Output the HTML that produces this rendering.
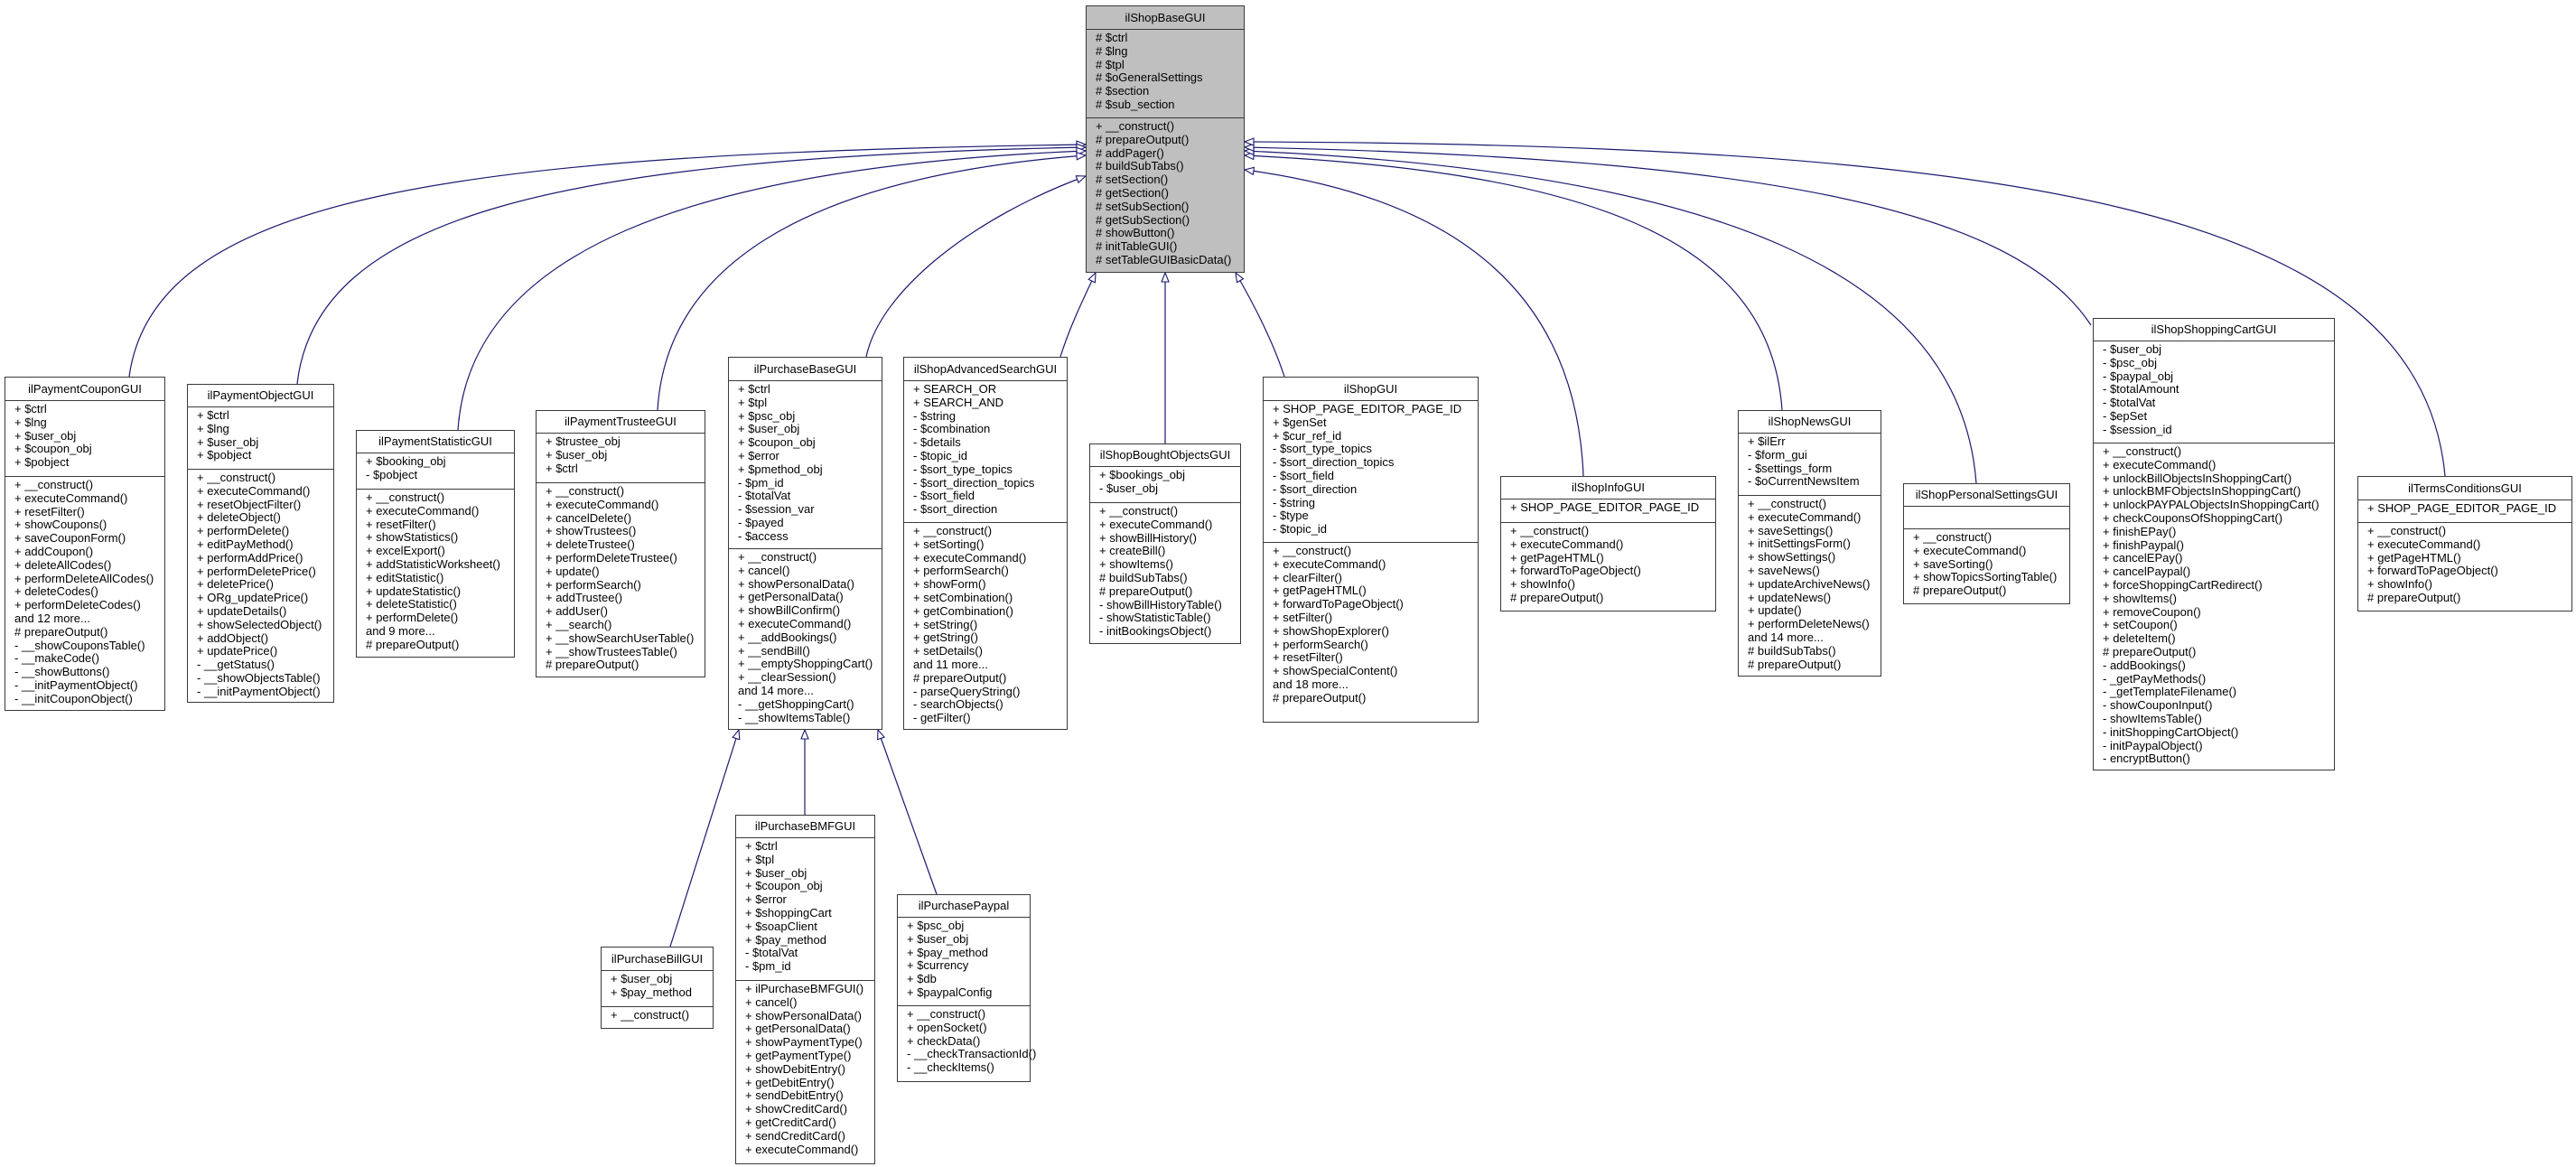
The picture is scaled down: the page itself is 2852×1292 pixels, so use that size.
<!DOCTYPE html>
<html><head><meta charset="utf-8"><style>
html,body{margin:0;padding:0;background:#fff;}
body{width:2852px;height:1292px;position:relative;overflow:hidden;font-family:"Liberation Sans",Arial,sans-serif;font-size:13px;color:#000;}
.b{position:absolute;box-sizing:border-box;border:1.3px solid #3a3a3a;background:#fff;}
.t{position:absolute;left:0;right:0;top:0;text-align:center;white-space:nowrap;}
.l{position:absolute;left:0;right:0;height:0;border-top:1.3px solid #3a3a3a;}
.a{position:absolute;left:10px;line-height:14.8px;white-space:pre;}
svg{position:absolute;left:0;top:0;}
</style></head><body>
<svg width="2852" height="1292" viewBox="0 0 2852 1292">
<defs><marker id="m" markerUnits="userSpaceOnUse" markerWidth="12" markerHeight="10" refX="11" refY="4.5" orient="auto"><path d="M1,0.5 L11,4.5 L1,8.5 Z" fill="#fff" stroke="#191970" stroke-width="1.1"/></marker></defs>
<g fill="none" stroke="#191970" stroke-width="1.2" marker-end="url(#m)">
<path d="M143,417 C170,217 500,170 1202,160"/>
<path d="M329,425 C350,238 620,175 1202,163"/>
<path d="M507,476 C520,280 760,185 1202,167"/>
<path d="M728,454 C738,290 900,195 1202,172"/>
<path d="M959,395 C975,320 1080,240 1202,195"/>
<path d="M1174,395 C1185,360 1200,330 1213,302"/>
<path d="M1290,491 L1290,302"/>
<path d="M1422,417 C1410,380 1390,340 1368,302"/>
<path d="M1753,527 C1745,330 1620,220 1378,188"/>
<path d="M1973,454 C1960,260 1750,190 1378,172"/>
<path d="M2188,535 C2170,300 1900,190 1378,167"/>
<path d="M2315,360 C2230,230 1950,175 1378,163"/>
<path d="M2707,527 C2680,231 2242,160 1378,157"/>
<path d="M742,1048 L818,808"/>
<path d="M891,902 L891,808"/>
<path d="M1037,990 L972,808"/>
</g></svg>

<div class="b" style="left:1202px;top:6px;width:176px;height:296px;background:#bfbfbf"><div class="t" style="height:25px;line-height:25px">ilShopBaseGUI</div><div class="l" style="top:25px"></div><div class="a" style="top:28px"># $ctrl<br># $lng<br># $tpl<br># $oGeneralSettings<br># $section<br># $sub_section</div><div class="l" style="top:123px"></div><div class="a" style="top:126px">+ __construct()<br># prepareOutput()<br># addPager()<br># buildSubTabs()<br># setSection()<br># getSection()<br># setSubSection()<br># getSubSection()<br># showButton()<br># initTableGUI()<br># setTableGUIBasicData()</div></div>

<div class="b" style="left:5px;top:417px;width:178px;height:370px"><div class="t" style="height:25px;line-height:25px">ilPaymentCouponGUI</div><div class="l" style="top:25px"></div><div class="a" style="top:28px">+ $ctrl<br>+ $lng<br>+ $user_obj<br>+ $coupon_obj<br>+ $pobject</div><div class="l" style="top:109px"></div><div class="a" style="top:112px">+ __construct()<br>+ executeCommand()<br>+ resetFilter()<br>+ showCoupons()<br>+ saveCouponForm()<br>+ addCoupon()<br>+ deleteAllCodes()<br>+ performDeleteAllCodes()<br>+ deleteCodes()<br>+ performDeleteCodes()<br>and 12 more...<br># prepareOutput()<br>- __showCouponsTable()<br>- __makeCode()<br>- __showButtons()<br>- __initPaymentObject()<br>- __initCouponObject()</div></div>

<div class="b" style="left:207px;top:425px;width:163px;height:353px"><div class="t" style="height:24px;line-height:24px">ilPaymentObjectGUI</div><div class="l" style="top:24px"></div><div class="a" style="top:27px">+ $ctrl<br>+ $lng<br>+ $user_obj<br>+ $pobject</div><div class="l" style="top:93px"></div><div class="a" style="top:96px">+ __construct()<br>+ executeCommand()<br>+ resetObjectFilter()<br>+ deleteObject()<br>+ performDelete()<br>+ editPayMethod()<br>+ performAddPrice()<br>+ performDeletePrice()<br>+ deletePrice()<br>+ ORg_updatePrice()<br>+ updateDetails()<br>+ showSelectedObject()<br>+ addObject()<br>+ updatePrice()<br>- __getStatus()<br>- __showObjectsTable()<br>- __initPaymentObject()</div></div>

<div class="b" style="left:394px;top:476px;width:176px;height:252px"><div class="t" style="height:24px;line-height:24px">ilPaymentStatisticGUI</div><div class="l" style="top:24px"></div><div class="a" style="top:27px">+ $booking_obj<br>- $pobject</div><div class="l" style="top:64px"></div><div class="a" style="top:67px">+ __construct()<br>+ executeCommand()<br>+ resetFilter()<br>+ showStatistics()<br>+ excelExport()<br>+ addStatisticWorksheet()<br>+ editStatistic()<br>+ updateStatistic()<br>+ deleteStatistic()<br>+ performDelete()<br>and 9 more...<br># prepareOutput()</div></div>

<div class="b" style="left:593px;top:454px;width:188px;height:296px"><div class="t" style="height:24px;line-height:24px">ilPaymentTrusteeGUI</div><div class="l" style="top:24px"></div><div class="a" style="top:27px">+ $trustee_obj<br>+ $user_obj<br>+ $ctrl</div><div class="l" style="top:79px"></div><div class="a" style="top:82px">+ __construct()<br>+ executeCommand()<br>+ cancelDelete()<br>+ showTrustees()<br>+ deleteTrustee()<br>+ performDeleteTrustee()<br>+ update()<br>+ performSearch()<br>+ addTrustee()<br>+ addUser()<br>+ __search()<br>+ __showSearchUserTable()<br>+ __showTrusteesTable()<br># prepareOutput()</div></div>

<div class="b" style="left:806px;top:395px;width:171px;height:413px"><div class="t" style="height:25px;line-height:25px">ilPurchaseBaseGUI</div><div class="l" style="top:25px"></div><div class="a" style="top:28px">+ $ctrl<br>+ $tpl<br>+ $psc_obj<br>+ $user_obj<br>+ $coupon_obj<br>+ $error<br>+ $pmethod_obj<br>- $pm_id<br>- $totalVat<br>- $session_var<br>- $payed<br>- $access</div><div class="l" style="top:211px"></div><div class="a" style="top:214px">+ __construct()<br>+ cancel()<br>+ showPersonalData()<br>+ getPersonalData()<br>+ showBillConfirm()<br>+ executeCommand()<br>+ __addBookings()<br>+ __sendBill()<br>+ __emptyShoppingCart()<br>+ __clearSession()<br>and 14 more...<br>- __getShoppingCart()<br>- __showItemsTable()</div></div>

<div class="b" style="left:1000px;top:395px;width:182px;height:413px"><div class="t" style="height:25px;line-height:25px">ilShopAdvancedSearchGUI</div><div class="l" style="top:25px"></div><div class="a" style="top:28px">+ SEARCH_OR<br>+ SEARCH_AND<br>- $string<br>- $combination<br>- $details<br>- $topic_id<br>- $sort_type_topics<br>- $sort_direction_topics<br>- $sort_field<br>- $sort_direction</div><div class="l" style="top:182px"></div><div class="a" style="top:185px">+ __construct()<br>+ setSorting()<br>+ executeCommand()<br>+ performSearch()<br>+ showForm()<br>+ setCombination()<br>+ getCombination()<br>+ setString()<br>+ getString()<br>+ setDetails()<br>and 11 more...<br># prepareOutput()<br>- parseQueryString()<br>- searchObjects()<br>- getFilter()</div></div>

<div class="b" style="left:1206px;top:491px;width:168px;height:222px"><div class="t" style="height:24px;line-height:24px">ilShopBoughtObjectsGUI</div><div class="l" style="top:24px"></div><div class="a" style="top:27px">+ $bookings_obj<br>- $user_obj</div><div class="l" style="top:64px"></div><div class="a" style="top:67px">+ __construct()<br>+ executeCommand()<br>+ showBillHistory()<br>+ createBill()<br>+ showItems()<br># buildSubTabs()<br># prepareOutput()<br>- showBillHistoryTable()<br>- showStatisticTable()<br>- initBookingsObject()</div></div>

<div class="b" style="left:1398px;top:417px;width:239px;height:383px"><div class="t" style="height:25px;line-height:25px">ilShopGUI</div><div class="l" style="top:25px"></div><div class="a" style="top:28px">+ SHOP_PAGE_EDITOR_PAGE_ID<br>+ $genSet<br>+ $cur_ref_id<br>- $sort_type_topics<br>- $sort_direction_topics<br>- $sort_field<br>- $sort_direction<br>- $string<br>- $type<br>- $topic_id</div><div class="l" style="top:182px"></div><div class="a" style="top:185px">+ __construct()<br>+ executeCommand()<br>+ clearFilter()<br>+ getPageHTML()<br>+ forwardToPageObject()<br>+ setFilter()<br>+ showShopExplorer()<br>+ performSearch()<br>+ resetFilter()<br>+ showSpecialContent()<br>and 18 more...<br># prepareOutput()</div></div>

<div class="b" style="left:1661px;top:527px;width:239px;height:150px"><div class="t" style="height:24px;line-height:24px">ilShopInfoGUI</div><div class="l" style="top:24px"></div><div class="a" style="top:27px">+ SHOP_PAGE_EDITOR_PAGE_ID</div><div class="l" style="top:50px"></div><div class="a" style="top:53px">+ __construct()<br>+ executeCommand()<br>+ getPageHTML()<br>+ forwardToPageObject()<br>+ showInfo()<br># prepareOutput()</div></div>

<div class="b" style="left:1924px;top:454px;width:159px;height:295px"><div class="t" style="height:24px;line-height:24px">ilShopNewsGUI</div><div class="l" style="top:24px"></div><div class="a" style="top:27px">+ $ilErr<br>- $form_gui<br>- $settings_form<br>- $oCurrentNewsItem</div><div class="l" style="top:93px"></div><div class="a" style="top:96px">+ __construct()<br>+ executeCommand()<br>+ saveSettings()<br>+ initSettingsForm()<br>+ showSettings()<br>+ saveNews()<br>+ updateArchiveNews()<br>+ updateNews()<br>+ update()<br>+ performDeleteNews()<br>and 14 more...<br># buildSubTabs()<br># prepareOutput()</div></div>

<div class="b" style="left:2107px;top:535px;width:185px;height:134px"><div class="t" style="height:24px;line-height:24px">ilShopPersonalSettingsGUI</div><div class="l" style="top:24px"></div><div class="l" style="top:49px"></div><div class="a" style="top:52px">+ __construct()<br>+ executeCommand()<br>+ saveSorting()<br>+ showTopicsSortingTable()<br># prepareOutput()</div></div>

<div class="b" style="left:2317px;top:352px;width:268px;height:501px"><div class="t" style="height:24px;line-height:24px">ilShopShoppingCartGUI</div><div class="l" style="top:24px"></div><div class="a" style="top:27px">- $user_obj<br>- $psc_obj<br>- $paypal_obj<br>- $totalAmount<br>- $totalVat<br>- $epSet<br>- $session_id</div><div class="l" style="top:137px"></div><div class="a" style="top:140px">+ __construct()<br>+ executeCommand()<br>+ unlockBillObjectsInShoppingCart()<br>+ unlockBMFObjectsInShoppingCart()<br>+ unlockPAYPALObjectsInShoppingCart()<br>+ checkCouponsOfShoppingCart()<br>+ finishEPay()<br>+ finishPaypal()<br>+ cancelEPay()<br>+ cancelPaypal()<br>+ forceShoppingCartRedirect()<br>+ showItems()<br>+ removeCoupon()<br>+ setCoupon()<br>+ deleteItem()<br># prepareOutput()<br>- addBookings()<br>- _getPayMethods()<br>- _getTemplateFilename()<br>- showCouponInput()<br>- showItemsTable()<br>- initShoppingCartObject()<br>- initPaypalObject()<br>- encryptButton()</div></div>

<div class="b" style="left:2610px;top:527px;width:238px;height:150px"><div class="t" style="height:25px;line-height:25px">ilTermsConditionsGUI</div><div class="l" style="top:25px"></div><div class="a" style="top:28px">+ SHOP_PAGE_EDITOR_PAGE_ID</div><div class="l" style="top:50px"></div><div class="a" style="top:53px">+ __construct()<br>+ executeCommand()<br>+ getPageHTML()<br>+ forwardToPageObject()<br>+ showInfo()<br># prepareOutput()</div></div>

<div class="b" style="left:665px;top:1048px;width:125px;height:91px"><div class="t" style="height:25px;line-height:25px">ilPurchaseBillGUI</div><div class="l" style="top:25px"></div><div class="a" style="top:28px">+ $user_obj<br>+ $pay_method</div><div class="l" style="top:65px"></div><div class="a" style="top:68px">+ __construct()</div></div>

<div class="b" style="left:814px;top:902px;width:155px;height:387px"><div class="t" style="height:24px;line-height:24px">ilPurchaseBMFGUI</div><div class="l" style="top:24px"></div><div class="a" style="top:27px">+ $ctrl<br>+ $tpl<br>+ $user_obj<br>+ $coupon_obj<br>+ $error<br>+ $shoppingCart<br>+ $soapClient<br>+ $pay_method<br>- $totalVat<br>- $pm_id</div><div class="l" style="top:182px"></div><div class="a" style="top:185px">+ ilPurchaseBMFGUI()<br>+ cancel()<br>+ showPersonalData()<br>+ getPersonalData()<br>+ showPaymentType()<br>+ getPaymentType()<br>+ showDebitEntry()<br>+ getDebitEntry()<br>+ sendDebitEntry()<br>+ showCreditCard()<br>+ getCreditCard()<br>+ sendCreditCard()<br>+ executeCommand()</div></div>

<div class="b" style="left:993px;top:990px;width:148px;height:208px"><div class="t" style="height:24px;line-height:24px">ilPurchasePaypal</div><div class="l" style="top:24px"></div><div class="a" style="top:27px">+ $psc_obj<br>+ $user_obj<br>+ $pay_method<br>+ $currency<br>+ $db<br>+ $paypalConfig</div><div class="l" style="top:122px"></div><div class="a" style="top:125px">+ __construct()<br>+ openSocket()<br>+ checkData()<br>- __checkTransactionId()<br>- __checkItems()</div></div>

</body></html>
